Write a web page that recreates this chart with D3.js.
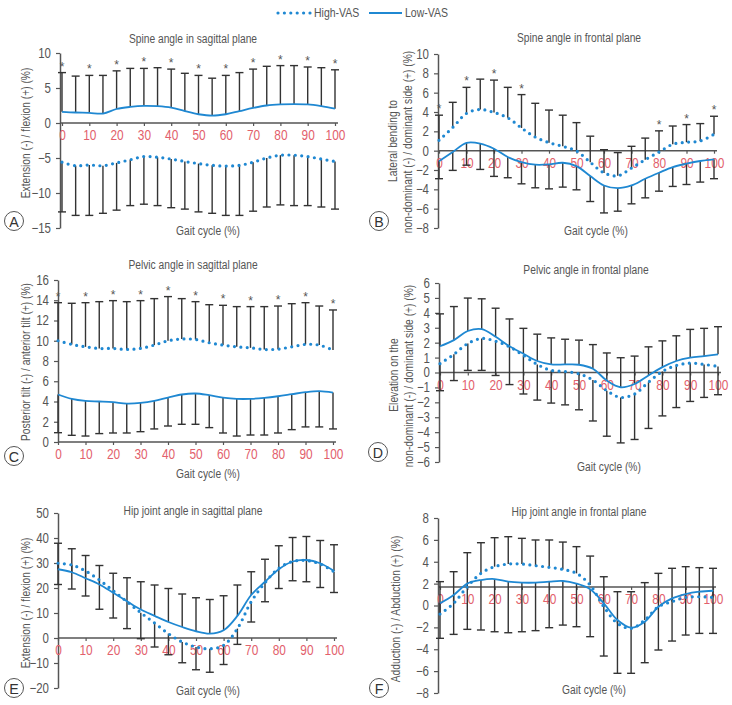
<!DOCTYPE html>
<html><head><meta charset="utf-8">
<script src="https://cdn.jsdelivr.net/npm/d3@7"></script>
<style>
body{margin:0;background:#fff;}
svg text{font-family:"Liberation Sans",Arial,sans-serif;}
</style></head><body><svg id="c" width="732" height="705"></svg>
<script>
const gait = [0,5,10,15,20,25,30,35,40,45,50,55,60,65,70,75,80,85,90,95,100];
const xTicks = [0,10,20,30,40,50,60,70,80,90,100];
const seriesNames = ["High-VAS","Low-VAS"];

// Panel A: Spine angle in sagittal plane
const aLow     = [1.6,1.5,1.45,1.35,2.0,2.3,2.45,2.4,2.2,1.7,1.25,1.05,1.25,1.7,2.15,2.5,2.65,2.7,2.65,2.4,2.05];
const aLowBar  = [7.2,6.7,6.8,6.8,7.45,7.8,7.8,7.9,7.7,7.1,6.8,6.4,6.8,7.2,7.7,8.1,8.2,8.2,8.0,7.9,7.6];
const aHigh    = [-5.6,-6.1,-6.0,-6.1,-5.7,-5.25,-4.8,-4.9,-5.15,-5.5,-5.8,-6.05,-6.15,-6.05,-5.6,-5.0,-4.6,-4.6,-4.8,-5.15,-5.5];
const aHighBar = [-12.7,-13.2,-13.2,-12.9,-12.45,-11.8,-11.6,-11.8,-12.1,-12.3,-12.7,-12.9,-13.2,-13.2,-12.6,-12.0,-11.7,-11.8,-11.8,-12.0,-12.3];
const aSig     = [0,10,20,30,40,50,60,70,80,90,100];
const aYTicks  = [10,5,0,-5,-10,-15];

// Panel B: Spine angle in frontal plane
const bLow     = [-1.1,-0.14,0.8,0.73,0.2,-0.66,-1.18,-1.45,-1.42,-1.25,-1.6,-2.63,-3.6,-3.88,-3.6,-2.9,-2.28,-1.7,-1.35,-1.07,-0.9];
const bLowBar  = [-2.9,-2.04,-1.5,-1.94,-2.66,-2.8,-3.43,-3.84,-3.95,-3.77,-4.05,-5.26,-6.44,-6.26,-5.5,-4.88,-4.19,-3.7,-3.5,-3.25,-2.9];
const bHigh    = [1.07,2.4,3.85,4.26,3.95,3.4,2.35,1.4,0.83,0.45,-0.03,-1.2,-2.3,-2.6,-1.8,-0.93,-0.14,0.66,0.87,1.0,1.7];
const bHighBar = [3.67,5.0,6.55,7.4,7.3,6.55,5.8,4.9,4.2,3.67,2.9,1.5,0.1,-0.2,0.45,1.3,2.05,2.55,2.7,2.8,3.56];
const bSig     = [0,10,20,30,80,90,100];
const bYTicks  = [10,8,6,4,2,0,-2,-4,-6,-8];

// Panel C: Pelvic angle in sagittal plane
const cLow     = [4.69,4.26,4.06,4.0,3.93,3.8,3.86,4.06,4.39,4.69,4.79,4.62,4.39,4.26,4.26,4.36,4.52,4.72,4.92,5.02,4.88];
const cLowBar  = [0.92,0.66,0.59,0.83,0.89,0.89,1.02,1.29,1.58,1.75,1.75,1.42,0.89,0.59,0.69,0.69,0.89,1.22,1.49,1.49,1.29];
const cHigh    = [10.0,9.64,9.4,9.24,9.24,9.14,9.24,9.57,10.0,10.17,10.13,9.8,9.57,9.4,9.3,9.14,9.17,9.4,9.64,9.57,9.08];
const cHighBar = [13.76,13.7,13.76,13.86,13.96,13.86,13.96,14.16,14.36,14.16,13.86,13.56,13.5,13.37,13.37,13.37,13.43,13.66,13.76,13.43,13.04];
const cSig     = [0,10,20,30,40,50,60,70,80,90,100];
const cYTicks  = [16,14,12,10,8,6,4,2,0];

// Panel D: Pelvic angle in frontal plane
const dLow     = [1.76,2.17,2.78,2.91,2.39,1.76,1.26,0.77,0.54,0.54,0.52,0.25,-0.54,-0.99,-0.77,-0.2,0.36,0.77,0.99,1.1,1.22];
const dLowBar  = [3.93,4.42,4.99,4.94,4.31,3.59,2.96,2.57,2.32,2.23,2.17,1.87,1.31,0.99,1.1,1.72,2.12,2.46,2.89,2.96,3.07];
const dHigh    = [0.59,1.22,1.94,2.28,2.1,1.72,1.15,0.54,0.14,0.07,-0.09,-0.5,-1.22,-1.67,-1.44,-0.65,0.07,0.47,0.63,0.54,0.41];
const dHighBar = [-1.22,-0.54,0.14,0.14,-0.2,-0.81,-1.44,-1.85,-2.05,-2.17,-2.5,-3.25,-4.27,-4.72,-4.49,-3.75,-2.91,-2.35,-1.94,-1.67,-1.49];
const dSig     = [];
const dYTicks  = [6,5,4,3,2,1,0,-1,-2,-3,-4,-5,-6];

// Panel E: Hip joint angle in sagittal plane
const eLow     = [27.5,26.3,23.9,21.4,18.1,14.7,11.4,8.85,6.4,4.4,2.7,1.74,3.1,8.85,17.2,22.5,27.5,30.6,31.2,29.9,26.8];
const eLowBar  = [37.9,35.7,33.0,29.0,25.9,24.1,22.5,21.2,19.8,17.6,16.1,15.4,16.9,21.2,26.5,31.5,36.9,40.2,40.6,39.0,37.3];
const eHigh    = [29.9,29.2,26.8,23.2,18.9,14.5,10.1,6.0,1.74,-1.6,-3.6,-4.3,-2.95,3.75,14.5,22.1,27.9,30.6,31.0,29.6,26.5];
const eHighBar = [21.4,19.6,16.8,11.5,8.0,3.75,-0.27,-3.6,-6.7,-9.9,-12.7,-13.7,-10.6,-2.55,6.4,14.5,19.8,22.9,22.5,20.2,18.2];
const eSig     = [];
const eYTicks  = [50,40,30,20,10,0,-10,-20];

// Panel F: Hip joint angle in frontal plane
const fLow     = [0.2,0.96,2.0,2.33,2.42,2.18,2.09,2.09,2.18,2.24,2.0,1.48,0.2,-1.33,-2.03,-1.48,-0.11,0.65,1.05,1.26,1.35];
const fLowBar  = [-3.0,-2.64,-2.18,-2.24,-2.4,-2.49,-2.4,-2.3,-2.03,-1.79,-1.94,-2.85,-4.62,-6.2,-6.2,-5.23,-4.07,-3.25,-2.7,-2.55,-2.55];
const fHigh    = [-0.78,0.2,1.72,2.94,3.55,3.79,3.79,3.64,3.49,3.3,2.94,1.87,-0.11,-1.63,-2.09,-1.33,-0.11,0.35,0.74,0.8,0.74];
const fHighBar = [2.18,3.09,4.83,5.74,6.2,6.29,6.14,5.99,5.99,5.8,5.38,4.52,2.63,1.26,1.26,2.09,2.94,3.4,3.55,3.46,3.4];
const fSig     = [];
const fYTicks  = [8,6,4,2,0,-2,-4,-6,-8];

const BLUE = "#1f88d2", BAR = "#333", GRAY = "#555", RED = "#e2606b";
const SX = 0.82; // horizontal condensing of text (narrow typeface look)

const panels = [
  {letter:"A", title:"Spine angle in sagittal plane", ylab:["Extension (-) / flexion (+) (%)"], ylabX:[26], ylabY:[133],
   low:aLow, lowBar:aLowBar, high:aHigh, highBar:aHighBar, sig:aSig, yTicks:aYTicks, yDom:[-15,10],
   xr:[62,335], yr:[228,53], axisX:60, base:0, titleXY:[193,39], gaitXY:[208,231], circ:[14,221]},
  {letter:"B", title:"Spine angle in frontal plane", ylab:["Lateral bending to","non-dominant (-) / dominant side (+) (%)"], ylabX:[393,408], ylabY:[141,142],
   low:bLow, lowBar:bLowBar, high:bHigh, highBar:bHighBar, sig:bSig, yTicks:bYTicks, yDom:[-8,10],
   xr:[439,714], yr:[228,54], axisX:438, base:0, titleXY:[579,38], gaitXY:[596,231], circ:[379,221]},
  {letter:"C", title:"Pelvic angle in sagittal plane", ylab:["Posterior tilt (-) / anterior tilt (+) (%)"], ylabX:[26], ylabY:[362],
   low:cLow, lowBar:cLowBar, high:cHigh, highBar:cHighBar, sig:cSig, yTicks:cYTicks, yDom:[0,16],
   xr:[58,333], yr:[442,280], axisX:58, base:0, titleXY:[193,265], gaitXY:[208,474], circ:[14,456]},
  {letter:"D", title:"Pelvic angle in frontal plane", ylab:["Elevation on the","non-dominant (-) / dominant side (+) (%)"], ylabX:[394,409], ylabY:[375,376],
   low:dLow, lowBar:dLowBar, high:dHigh, highBar:dHighBar, sig:dSig, yTicks:dYTicks, yDom:[-6,6],
   xr:[440,718], yr:[462,283], axisX:439, base:0, titleXY:[586,270], gaitXY:[609,467], circ:[378,452]},
  {letter:"E", title:"Hip joint angle in sagittal plane", ylab:["Extension (-) / flexion (+) (%)"], ylabX:[26], ylabY:[603],
   low:eLow, lowBar:eLowBar, high:eHigh, highBar:eHighBar, sig:eSig, yTicks:eYTicks, yDom:[-20,50],
   xr:[58,334], yr:[688,513], axisX:58, base:0, titleXY:[193,511], gaitXY:[208,691], circ:[14,688]},
  {letter:"F", title:"Hip joint angle in frontal plane", ylab:["Adduction (-) / Abduction (+) (%)"], ylabX:[396], ylabY:[609],
   low:fLow, lowBar:fLowBar, high:fHigh, highBar:fHighBar, sig:fSig, yTicks:fYTicks, yDom:[-8,8],
   xr:[440,713], yr:[693,518], axisX:438, base:1.7, titleXY:[579,512], gaitXY:[594,690], circ:[379,688]}
];

const svg = d3.select("#c");
svg.append("rect").attr("width",732).attr("height",705).attr("fill","#fff");

function txt(g, x, y, s, o) {
  o = o || {};
  const rot = o.rotate ? ` rotate(${o.rotate})` : "";
  return g.append("text")
    .attr("transform", `translate(${x},${y})${rot} scale(${o.sx || SX},1)`)
    .attr("dy", o.dy || "0.35em")
    .attr("text-anchor", o.anchor || "start")
    .attr("font-size", o.size || 12.5)
    .attr("fill", o.fill || GRAY)
    .text(s);
}

// Legend
const lg = svg.append("g");
lg.append("line").attr("x1",278).attr("x2",311).attr("y1",13).attr("y2",13)
  .attr("stroke",BLUE).attr("stroke-width",3.2).attr("stroke-linecap","round").attr("stroke-dasharray","0 6.4");
txt(lg, 314, 13, seriesNames[0], {size:12.8});
lg.append("line").attr("x1",369).attr("x2",402).attr("y1",13).attr("y2",13)
  .attr("stroke",BLUE).attr("stroke-width",1.8);
txt(lg, 405, 13, seriesNames[1], {size:12.8});

panels.forEach(p => {
  const g = svg.append("g");
  const x = d3.scaleLinear().domain([0,100]).range(p.xr);
  const y = d3.scaleLinear().domain(p.yDom).range(p.yr);

  txt(g, p.titleXY[0], p.titleXY[1], p.title, {anchor:"middle"});
  txt(g, p.gaitXY[0], p.gaitXY[1], "Gait cycle (%)", {anchor:"middle"});
  p.ylab.forEach((t,i) => txt(g, p.ylabX[i], p.ylabY[i], t, {anchor:"middle", rotate:-90}));

  // circle letter
  g.append("circle").attr("cx",p.circ[0]).attr("cy",p.circ[1]).attr("r",9.5)
    .attr("fill","none").attr("stroke",GRAY).attr("stroke-width",1);
  txt(g, p.circ[0], p.circ[1]+0.3, p.letter, {anchor:"middle", size:15, sx:0.95, fill:"#333"});

  // y axis
  const ya = d3.axisLeft(y).tickValues(p.yTicks).tickSize(4).tickSizeOuter(0).tickPadding(5).tickFormat(d3.format("d"));
  const yg = g.append("g").attr("transform",`translate(${p.axisX},0)`).call(ya);
  yg.select(".domain").attr("stroke",GRAY).attr("stroke-width",1.5);
  yg.selectAll(".tick line").attr("stroke",GRAY).attr("stroke-width",1.2);
  yg.selectAll(".tick text").attr("font-size",14).attr("fill",GRAY)
    .attr("x", -9 / SX).attr("transform", `scale(${SX},1)`);

  // baseline / x axis
  const by = y(p.base);
  g.append("line").attr("x1",p.axisX).attr("x2",p.xr[1]+3).attr("y1",by).attr("y2",by)
    .attr("stroke",GRAY).attr("stroke-width",1.5);
  const xa = d3.axisBottom(x).tickValues(xTicks).tickSize(3).tickPadding(4);
  const xg = g.append("g").attr("transform",`translate(0,${by})`).call(xa);
  xg.select(".domain").remove();
  xg.selectAll(".tick line").attr("stroke",GRAY).attr("stroke-width",1.2);
  xg.selectAll(".tick text").attr("font-size",14.5).attr("fill",RED).attr("transform", `scale(${SX},1)`);

  // error bars
  const bars = g.append("g").attr("stroke",BAR).attr("stroke-width",1.4);
  const drawBars = (mean, end) => {
    gait.forEach((gx,i) => {
      const xx = x(gx);
      bars.append("line").attr("x1",xx).attr("x2",xx).attr("y1",y(mean[i])).attr("y2",y(end[i]));
      bars.append("line").attr("x1",xx-4).attr("x2",xx+4).attr("y1",y(end[i])).attr("y2",y(end[i]));
    });
  };
  drawBars(p.low,p.lowBar);
  drawBars(p.high,p.highBar);

  // lines
  const line = d3.line().x((d,i)=>x(gait[i])).y(d=>y(d)).curve(d3.curveCatmullRom.alpha(0.5));
  g.append("path").datum(p.low).attr("d",line).attr("fill","none").attr("stroke",BLUE).attr("stroke-width",1.8);
  g.append("path").datum(p.high).attr("d",line).attr("fill","none").attr("stroke",BLUE)
    .attr("stroke-width",3.2).attr("stroke-linecap","round").attr("stroke-dasharray","0 6.4");

  // asterisks
  p.sig.forEach(s => {
    const i = gait.indexOf(s);
    const top = Math.max(p.lowBar[i], p.highBar[i], p.low[i], p.high[i]);
    g.append("text").attr("x",x(s)).attr("y",y(top)-2).attr("text-anchor","middle")
      .attr("font-size",12).attr("fill",GRAY).text("*");
  });
});
</script></body></html>
